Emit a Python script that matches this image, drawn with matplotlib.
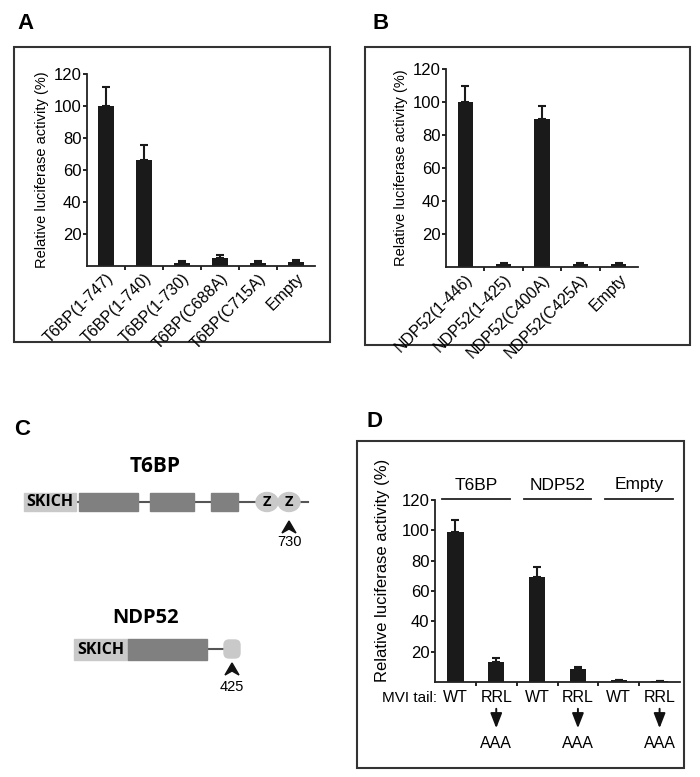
import matplotlib
matplotlib.use("Agg")
import matplotlib.pyplot as plt
from matplotlib.patches import Rectangle, Ellipse, Polygon, FancyBboxPatch
from matplotlib.transforms import blended_transform_factory

plt.rcParams['font.family'] = ['Liberation Sans', 'DejaVu Sans']

# panel A data
a_labels = ['T6BP(1-747)', 'T6BP(1-740)', 'T6BP(1-730)', 'T6BP(C688A)', 'T6BP(C715A)', 'Empty']
a_values = [100, 66, 2, 5, 2, 2.5]
a_errors = [12, 9.5, 1, 2, 1, 1]

# panel B data
b_labels = ['NDP52(1-446)', 'NDP52(1-425)', 'NDP52(C400A)', 'NDP52(C425A)', 'Empty']
b_values = [100, 2, 90, 2, 2]
b_errors = [9.5, 0.5, 7.5, 0.5, 0.5]

# panel D data
d_groups = ['T6BP', 'NDP52', 'Empty']
d_tail = ['WT', 'RRL', 'WT', 'RRL', 'WT', 'RRL']
d_values = [99, 13, 69, 8.5, 1, 0.5]
d_errors = [8, 2.5, 7, 1.5, 0.5, 0.2]

yticks = [20, 40, 60, 80, 100, 120]
W, H = 700, 777
BAR = '#1a1a1a'

fig = plt.figure(figsize=(7, 7.77), dpi=100)
over = fig.add_axes([0, 0, 1, 1])
over.set_xlim(0, W)
over.set_ylim(H, 0)
over.axis('off')


def px_axes(l, t, r, b):
    return fig.add_axes([l / W, 1 - b / H, (r - l) / W, (b - t) / H])


def bar_panel(ax, values, errors, tick_fs, ylab_fs):
    n = len(values)
    x = list(range(n))
    ax.bar(x, values, width=0.4, color=BAR, zorder=2)
    ax.errorbar(x, values, yerr=[[0] * n, errors], fmt='none', ecolor=BAR,
                elinewidth=1.5, capsize=3, capthick=1.5, zorder=1)
    ax.set_xlim(-0.5, n - 0.5)
    ax.set_ylim(0, 120)
    ax.set_yticks(yticks)
    ax.tick_params(axis='y', direction='out', length=3, width=1.2, labelsize=tick_fs, pad=1)
    ax.set_xticks([i + 0.5 for i in range(n - 1)], minor=True)
    ax.tick_params(axis='x', which='minor', direction='out', length=3, width=1.2)
    ax.tick_params(axis='x', which='major', length=0)
    for s in ['top', 'right']:
        ax.spines[s].set_visible(False)
    for s in ['left', 'bottom']:
        ax.spines[s].set_linewidth(1.3)
        ax.spines[s].set_color('#222222')
    ax.set_ylabel('Relative luciferase activity (%)', fontsize=ylab_fs, labelpad=3)
    ax.patch.set_alpha(0)


# frames and panel letters
for (l, t, r, b) in [(14, 47, 330, 342), (365, 47, 690, 345), (357, 441, 684, 768)]:
    over.add_patch(Rectangle((l, t), r - l, b - t, fill=False, lw=1.5, ec='#333333'))
for letter, (lx, ly) in zip('ABCD', [(17, 13), (373, 13), (14, 419), (366, 411)]):
    over.text(lx, ly, letter, fontsize=16, fontweight='bold', va='top', ha='left')

# panel A
axA = px_axes(87, 74, 315, 266)
bar_panel(axA, a_values, a_errors, 12, 10.5)
axA.set_xticks(range(len(a_labels)))
axA.set_xticklabels(a_labels, rotation=45, ha='right', rotation_mode='anchor', fontsize=11.5)

# panel B
axB = px_axes(446, 69, 638, 267)
bar_panel(axB, b_values, b_errors, 12, 10.5)
axB.set_xticks(range(len(b_labels)))
axB.set_xticklabels(b_labels, rotation=45, ha='right', rotation_mode='anchor', fontsize=11.5)

# panel D
axD = px_axes(435, 500, 680, 682)
bar_panel(axD, d_values, d_errors, 12, 12)
axD.yaxis.set_label_coords(-0.185, 0.615)
axD.set_xticks(range(len(d_tail)))
axD.set_xticklabels([])
tr = blended_transform_factory(axD.transData, over.transData)
over.text(410, 698, 'MVI tail:', fontsize=11, ha='center', va='center')
for i, lab in enumerate(d_tail):
    over.text(i, 698, lab, fontsize=11.5, ha='center', va='center', transform=tr)
    if lab == 'RRL':
        over.annotate('', xy=(i, 731), xytext=(i, 706), xycoords=tr, textcoords=tr,
                      arrowprops=dict(arrowstyle='-|>,head_width=0.35,head_length=0.9',
                                      color='#111111', lw=1.4))
        over.text(i, 744, 'AAA', fontsize=11.5, ha='center', va='center', transform=tr)
for g, name in enumerate(d_groups):
    over.plot([2 * g - 0.33, 2 * g + 1.33], [499, 499], color='#222222', lw=1.3, transform=tr)
    over.text(2 * g + 0.5, 485, name, fontsize=12.5, ha='center', va='center', transform=tr)

# panel C: domain diagrams
LIGHT = '#c9c9c9'
DARK = '#808080'
SK = dict(family=['Open Sans', 'DejaVu Sans'], fontweight='bold')

over.text(155, 467, 'T6BP', fontsize=15, ha='center', va='center', **SK)
over.plot([76, 308], [502, 502], color='#555555', lw=1.5, zorder=1)
over.add_patch(Rectangle((24, 493), 52, 18, color=LIGHT, zorder=2))
over.text(50, 502.5, 'SKICH', fontsize=11.5, ha='center', va='center', zorder=3, **SK)
for (x0, x1) in [(79, 138), (150, 194), (211, 238)]:
    over.add_patch(Rectangle((x0, 493), x1 - x0, 18, color=DARK, zorder=2))
for cx in [267, 289]:
    over.add_patch(Ellipse((cx, 502), 22, 19, color=LIGHT, zorder=2))
    over.text(cx, 502.5, 'Z', fontsize=10.5, ha='center', va='center', zorder=3, **SK)


def chevron(x, tip):
    over.add_patch(Polygon([(x, tip), (x - 7, tip + 12), (x, tip + 8), (x + 7, tip + 12)],
                           closed=True, color='#111111', zorder=3))


chevron(289, 521)
over.text(289, 542, '730', fontsize=10.5, ha='center', va='center')

over.text(146, 618, 'NDP52', fontsize=14.5, ha='center', va='center', **SK)
over.plot([207, 225], [649, 649], color='#555555', lw=1.5, zorder=1)
over.add_patch(Rectangle((74, 639), 54, 21, color=LIGHT, zorder=2))
over.text(101, 649.5, 'SKICH', fontsize=11.5, ha='center', va='center', zorder=3, **SK)
over.add_patch(Rectangle((128, 639), 79, 21, color=DARK, zorder=2))
over.add_patch(FancyBboxPatch((227, 643), 10, 12, boxstyle='round,pad=3,rounding_size=5',
                              color=LIGHT, zorder=2))
chevron(232, 663)
over.text(232, 687, '425', fontsize=10.5, ha='center', va='center')

fig.savefig('out.png', dpi=100)
